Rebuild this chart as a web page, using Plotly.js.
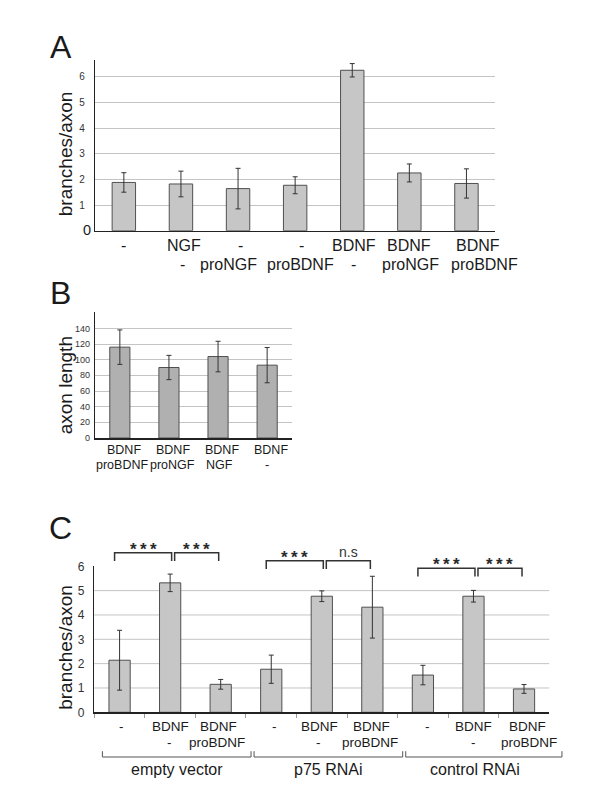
<!DOCTYPE html>
<html>
<head>
<meta charset="utf-8">
<script src="https://cdn.plot.ly/plotly-3.0.1.min.js"></script>
<style>html,body{margin:0;padding:0;background:#fff;}#chart{width:600px;height:804px;}</style>
</head>
<body>
<div id="chart"></div>
<script>
// ---------- DATA ----------
const labelsA1 = ['-', 'NGF', '-', '-', 'BDNF', 'BDNF', 'BDNF'];
const labelsA2 = ['', '-', 'proNGF', 'proBDNF', '-', 'proNGF', 'proBDNF'];
const valuesA = [1.88, 1.82, 1.64, 1.77, 6.25, 2.25, 1.84];
const errorsA = [0.38, 0.50, 0.79, 0.33, 0.26, 0.35, 0.57];
const ticksA = [1, 2, 3, 4, 5, 6];

const labelsB1 = ['BDNF', 'BDNF', 'BDNF', 'BDNF'];
const labelsB2 = ['proBDNF', 'proNGF', 'NGF', '-'];
const valuesB = [116, 90, 104, 93];
const errorsB = [22, 15.5, 19.5, 22.5];
const ticksB = [0, 20, 40, 60, 80, 100, 120, 140];

const labelsC1 = ['-', 'BDNF', 'BDNF', '-', 'BDNF', 'BDNF', '-', 'BDNF', 'BDNF'];
const labelsC2 = ['', '-', 'proBDNF', '', '-', 'proBDNF', '', '-', 'proBDNF'];
const valuesC = [2.14, 5.32, 1.15, 1.77, 4.77, 4.32, 1.53, 4.77, 0.96];
const errorsC = [1.23, 0.36, 0.20, 0.58, 0.22, 1.27, 0.40, 0.24, 0.18];
const ticksC = [0, 1, 2, 3, 4, 5, 6];
const groupsC = ['empty vector', 'p75 RNAi', 'control RNAi'];
const groupStartC = [0, 3, 6];
const groupEndC = [2, 5, 8];
const compareFrom = [0, 1, 3, 4, 6, 7];
const compareTo = [1, 2, 4, 5, 7, 8];
const compareText = ['***', '***', '***', 'n.s', '***', '***'];

// ---------- STYLE / PLACEMENT ----------
const W = 600, H = 804;
const px = x => x / W;
const py = y => 1 - y / H;
const FONT = 'Liberation Sans, Arial, sans-serif';
const TXT = '#1a1a1a';

// small horizontal nudges of the category texts (pixels), as in the reference figure
const dxA1 = [0, 3, 2, 6, 2, 0, 12];
const dxA2 = [0, 2, -10, 5, 1, 1, 18];
const dxB1 = [4.5, 4.5, 3.7, 3.6];
const dxB2 = [2.5, 4, 1, 0];
const dxC1 = [2, 0, -2.5, 3, -2, -1, 5, 0, 3];
const dxC2 = [0, -0.5, -4, 0, -3, -2.6, 0, 0, 5];
const groupLabelDx = [6.5, 6.3, 1.2];

const domA = {x: [px(95.3), px(495)], y: [py(230.7), py(60)], range: [0, 6.65]};
const domB = {x: [px(95.3), px(291.7)], y: [py(438), py(311.9)], range: [0, 161]};
const domC = {x: [px(94.3), px(549.3)], y: [py(712.3), py(566.3)], range: [0, 6]};

function catCenter(dom, n, i) { return dom.x[0] + (i + 0.5) / n * (dom.x[1] - dom.x[0]); }
function ids(l1, l2) { return l1.map((a, i) => a + '|' + l2[i] + '|' + i); }

function barTrace(l1, l2, vals, errs, xa, ya, color, width) {
  return {
    type: 'bar', x: ids(l1, l2), y: vals, xaxis: xa, yaxis: ya, width: width,
    marker: {color: color, line: {color: '#505050', width: 1}},
    error_y: {type: 'data', array: errs, visible: true, color: '#333', thickness: 1, width: 2.5},
    hoverinfo: 'none', showlegend: false
  };
}

const data = [
  barTrace(labelsA1, labelsA2, valuesA, errorsA, 'x', 'y', '#c6c6c6', 0.41),
  barTrace(labelsB1, labelsB2, valuesB, errorsB, 'x2', 'y2', '#b0b0b0', 0.41),
  barTrace(labelsC1, labelsC2, valuesC, errorsC, 'x3', 'y3', '#c6c6c6', 0.42)
];

function xAxis(dom, anchor, ticks) {
  return {
    domain: dom.x, anchor: anchor, type: 'category', showticklabels: false,
    showline: true, linecolor: '#222', linewidth: 1.5, showgrid: false, zeroline: false,
    ticks: ticks ? 'outside' : '', tickson: 'boundaries', ticklen: 4, tickcolor: '#999', fixedrange: true
  };
}
function yAxis(dom, anchor, tickvals, fs, standoff, grid) {
  return {
    domain: dom.y, anchor: anchor, range: dom.range, tickvals: tickvals,
    ticktext: tickvals.map(String), tickfont: {family: FONT, size: fs, color: '#333'},
    showline: true, linecolor: '#222', linewidth: 1.5, showgrid: grid, gridcolor: '#c4c4c4', gridwidth: 1,
    zeroline: false, ticks: '', ticklabelstandoff: standoff, fixedrange: true
  };
}

const annotations = [];
const shapes = [];

function addText(text, x, y, size, opts) {
  annotations.push(Object.assign({
    text: text, x: x, y: y, xref: 'paper', yref: 'paper', showarrow: false,
    xanchor: 'center', yanchor: 'middle', font: {family: FONT, size: size, color: TXT}
  }, opts || {}));
}

function addCatLabels(dom, l1, l2, dx1, dx2, y1, y2, size) {
  const n = l1.length;
  l1.forEach((t, i) => { if (t) addText(t, catCenter(dom, n, i) + px(dx1[i]), py(y1), size); });
  l2.forEach((t, i) => { if (t) addText(t, catCenter(dom, n, i) + px(dx2[i]), py(y2), size); });
}

// panel letters
addText('A', px(61), py(46.5), 32);
addText('B', px(60), py(292.8), 32);
addText('C', px(60.5), py(528.3), 32);

// y titles
addText('branches/axon', px(65.5), py(153.7), 19, {textangle: -90});
addText('axon length', px(65), py(385.3), 19, {textangle: -90});
addText('branches/axon', px(66), py(647.8), 19, {textangle: -90});

// big zero of panel A
addText('0', px(93.3), py(230.2), 14.5, {xanchor: 'right'});

// category labels
addCatLabels(domA, labelsA1, labelsA2, dxA1, dxA2, 245.3, 264, 16);
addCatLabels(domB, labelsB1, labelsB2, dxB1, dxB2, 450, 464.5, 12.5);
addCatLabels(domC, labelsC1, labelsC2, dxC1, dxC2, 726.3, 742, 13.5);

// group brackets of panel C
const nC = labelsC1.length;
const stepC = (domC.x[1] - domC.x[0]) / nC;
groupsC.forEach((g, k) => {
  const x1 = catCenter(domC, nC, groupStartC[k]) - 0.34 * stepC;
  const x2 = catCenter(domC, nC, groupEndC[k]) + (k === 2 ? 0.75 : 0.6) * stepC;
  const yl = py(757), ye = py(751.2);
  shapes.push({type: 'path', xref: 'paper', yref: 'paper',
    path: `M ${x1} ${ye} L ${x1} ${yl} L ${x2} ${yl} L ${x2} ${ye}`,
    line: {color: '#555', width: 1}});
  const mid = (catCenter(domC, nC, groupStartC[k]) + catCenter(domC, nC, groupEndC[k])) / 2 + px(groupLabelDx[k]);
  addText(g, mid, py(769), 16);
});

// significance brackets of panel C
const sigLineY = [552.7, 560.8, 568.3];
compareFrom.forEach((a, k) => {
  const b = compareTo[k];
  const g = Math.floor(a / 3);
  const first = (a % 3) === 0;
  const x1 = catCenter(domC, nC, a) + px(first ? -5 : 4.5);
  const x2 = catCenter(domC, nC, b) + px(first ? 1.5 : -2);
  const yl = py(sigLineY[g]), ye = py(sigLineY[g] + 8.3);
  shapes.push({type: 'path', xref: 'paper', yref: 'paper',
    path: `M ${x1} ${ye} L ${x1} ${yl} L ${x2} ${yl} L ${x2} ${ye}`,
    line: {color: '#333', width: 1.5}});
  const isStar = compareText[k].indexOf('*') >= 0;
  if (isStar) {
    const spaced = compareText[k].split('').join('&#8201;');
    addText('<b>' + spaced + '</b>', (x1 + x2) / 2, py(sigLineY[g] - 3.5), 17,
      {font: {family: FONT, size: 17, color: '#2a2a2a'}});
  } else {
    addText(compareText[k], (x1 + x2) / 2, py(sigLineY[g] - 8.4), 14,
      {font: {family: FONT, size: 14, color: '#333'}});
  }
});

// gridlines of panel C (no line at the top value)
ticksC.filter(v => v > 0 && v < domC.range[1]).forEach(v => {
  shapes.push({type: 'line', xref: 'x3 domain', yref: 'y3', x0: 0, x1: 1, y0: v, y1: v,
    line: {color: '#c4c4c4', width: 1}, layer: 'below'});
});

const layout = {
  width: W, height: H, margin: {l: 0, r: 0, t: 0, b: 0},
  paper_bgcolor: '#fff', plot_bgcolor: 'rgba(0,0,0,0)', bargap: 0.5,
  font: {family: FONT, color: TXT},
  xaxis: xAxis(domA, 'y', false),
  yaxis: yAxis(domA, 'x', ticksA, 10, 7, true),
  xaxis2: xAxis(domB, 'y2', false),
  yaxis2: yAxis(domB, 'x2', ticksB, 9, 2, true),
  xaxis3: xAxis(domC, 'y3', true),
  yaxis3: yAxis(domC, 'x3', ticksC, 12, 6, false),
  annotations: annotations, shapes: shapes
};

Plotly.newPlot('chart', data, layout, {staticPlot: true, displayModeBar: false});
</script>
</body>
</html>
